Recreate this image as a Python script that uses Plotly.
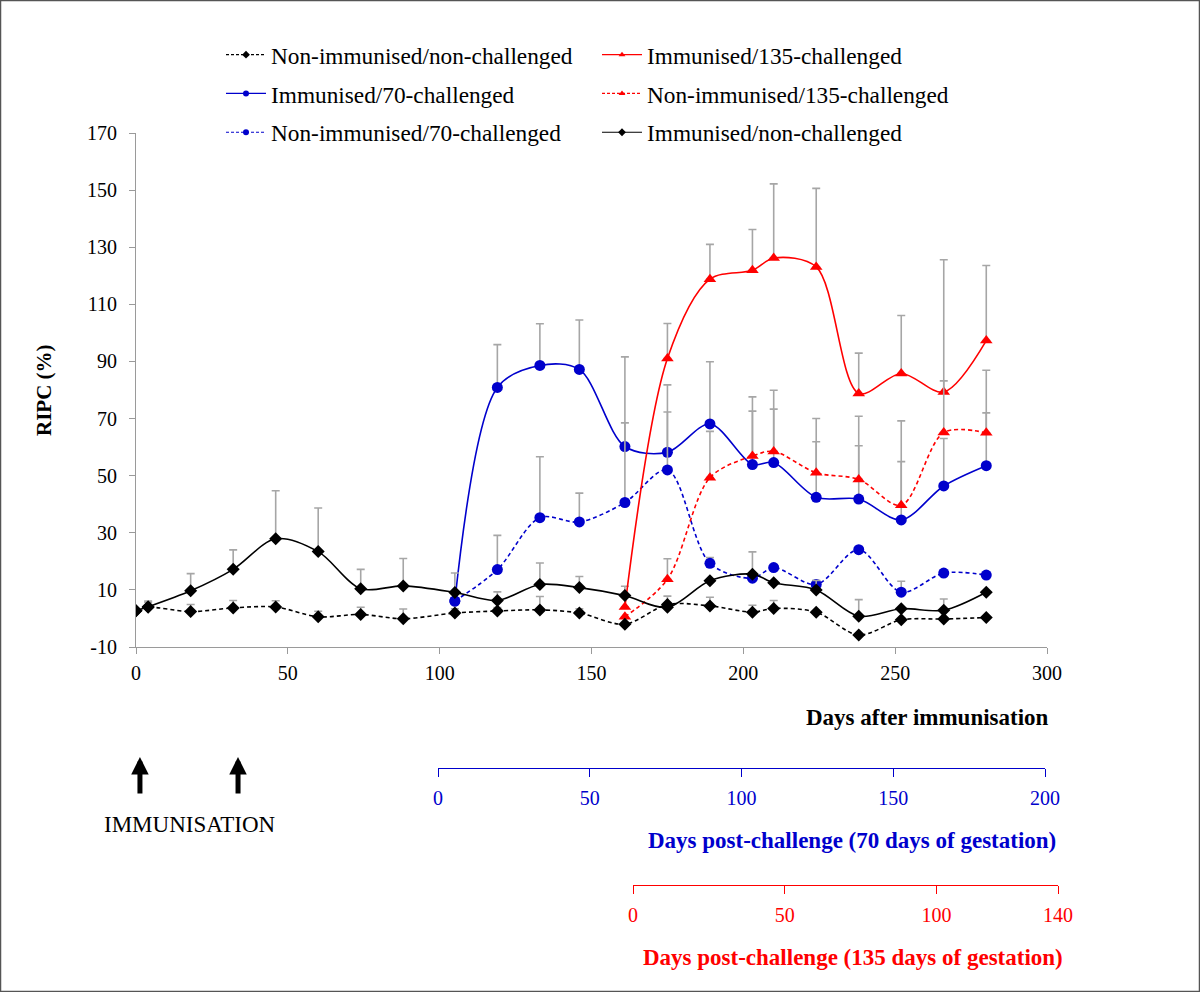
import plotly.graph_objects as go

# ---------------- data ----------------
days = [0, 4, 18, 32, 46, 60, 74, 88, 105, 119, 133, 146, 161, 175, 189, 203, 210, 224, 238, 252, 266, 280]
imm_nonch = [2.7, 4.1, 9.7, 17.2, 27.9, 23.4, 10.4, 11.4, 9.1, 6.3, 11.9, 10.8, 8.0, 3.9, 13.2, 15.5, 12.5, 10.0, 0.8, 3.4, 2.9, 9.2]
imm_nonch_err = [0, 2.0, 6.0, 6.8, 16.8, 15.3, 6.8, 9.6, 6.8, 3.0, 7.5, 3.9, 0, 0, 0, 7.8, 0, 3.3, 5.8, 0, 3.9, 0]
nonimm_nonch = [2.7, 3.9, 2.4, 3.7, 4.0, 0.6, 1.4, -0.1, 1.9, 2.6, 3.0, 1.9, -2.0, 4.9, 4.4, 2.2, 3.5, 2.2, -5.8, -0.5, -0.2, 0.3]
nonimm_nonch_err = [0, 1.8, 2.5, 2.6, 2.2, 1.9, 2.5, 3.4, 1.5, 1.2, 4.7, 1.5, 0, 2.9, 3.0, 2.4, 2.8, 0, 0, 0, 0, 0]

days_70 = [105, 119, 133, 146, 161, 175, 189, 203, 210, 224, 238, 252, 266, 280]
imm_70 = [6.1, 80.9, 88.6, 87.2, 60.2, 58.2, 68.1, 53.9, 54.6, 42.4, 41.8, 34.5, 46.4, 53.5]
imm_70_err = [1.0, 15.0, 14.6, 17.3, 31.4, 23.6, 21.8, 18.7, 18.7, 19.5, 18.7, 20.4, 16.6, 18.5]
nonimm_70 = [6.1, 17.1, 35.3, 33.8, 40.6, 52.0, 19.3, 14.1, 17.8, 11.9, 24.1, 9.2, 15.9, 15.2]
nonimm_70_err = [0, 12.0, 21.3, 10.1, 27.9, 20.3, 2.0, 1.0, 0, 1.4, 0, 3.8, 0, 0]

days_135 = [161, 175, 189, 203, 210, 224, 238, 252, 266, 280]
imm_135 = [4.0, 91.0, 118.8, 121.9, 126.2, 123.1, 78.8, 85.8, 79.3, 97.3]
imm_135_err = [7.3, 12.3, 12.2, 14.3, 26.0, 27.5, 14.1, 20.3, 46.3, 26.3]
nonimm_135 = [0.6, 13.7, 49.3, 56.9, 58.5, 51.0, 48.7, 39.6, 65.1, 65.0]
nonimm_135_err = [0, 7.2, 16.2, 20.7, 21.4, 19.0, 22.1, 29.6, 18.1, 21.9]

immunisation_days = [1.3, 33.6]
y_ticks = [-10, 10, 30, 50, 70, 90, 110, 130, 150, 170]
y_ticktext = ["-10", "10", "30", "50", "70", "90", "110", "130", "150", "170"]
x_ticks = [0, 50, 100, 150, 200, 250, 300]
pc70_ticks = [0, 50, 100, 150, 200]
pc135_ticks = [0, 50, 100, 140]

# ---------------- styling ----------------
FONT = "Liberation Serif"
BLUE = "#0000CC"
RED = "#FF0000"
BLACK = "#000000"
GREY = "#A6A6A6"
AXIS = "#9A9A9A"

series = [
    # name, x, y, err, colour, dash, symbol, size, legend
    ("Immunised/70-challenged", days_70, imm_70, imm_70_err, BLUE, "solid", "circle", 11, "legend"),
    ("Non-immunised/70-challenged", days_70, nonimm_70, nonimm_70_err, BLUE, "4px,3px", "circle", 11, "legend"),
    ("Immunised/135-challenged", days_135, imm_135, imm_135_err, RED, "solid", "triangle-up", 11, "legend2"),
    ("Non-immunised/135-challenged", days_135, nonimm_135, nonimm_135_err, RED, "4px,3px", "triangle-up", 11, "legend2"),
    ("Non-immunised/non-challenged", days, nonimm_nonch, nonimm_nonch_err, BLACK, "4px,3px", "diamond", 10, "legend"),
    ("Immunised/non-challenged", days, imm_nonch, imm_nonch_err, BLACK, "solid", "diamond", 10, "legend2"),
]

legend_order = [
    "Non-immunised/non-challenged", "Immunised/70-challenged", "Non-immunised/70-challenged",
    "Immunised/135-challenged", "Non-immunised/135-challenged", "Immunised/non-challenged",
]

fig = go.Figure()

# empty traces so the two extra time axes exist (added first -> drawn underneath)
fig.add_trace(go.Scatter(x=[None], y=[None], xaxis="x2", yaxis="y", showlegend=False, hoverinfo="skip"))
fig.add_trace(go.Scatter(x=[None], y=[None], xaxis="x3", yaxis="y", showlegend=False, hoverinfo="skip"))

for name, xs, ys, err, col, dash, sym, size, lg in series:
    fig.add_trace(go.Scatter(
        x=xs, y=ys, mode="lines+markers", name=name, legendgroup=name, showlegend=False,
        line=dict(color=col, width=1.6, dash=dash, shape="spline", smoothing=0.9),
        marker=dict(color=col, symbol=sym, size=size),
        error_y=dict(type="data", symmetric=False, array=err, arrayminus=[0] * len(err),
                     color=GREY, thickness=1.6, width=4),
        hoverinfo="x+y+name",
    ))

# legend-only entries (small markers like the original legend)
style = {s[0]: s for s in series}
for name in legend_order:
    _, _, _, _, col, dash, sym, _, lg = style[name]
    fig.add_trace(go.Scatter(
        x=[None], y=[None], mode="lines+markers", name=name, legendgroup=name,
        legend=lg, showlegend=True,
        line=dict(color=col, width=1.2, dash="3px,2px" if dash != "solid" else "solid"),
        marker=dict(color=col, symbol=sym, size=6),
    ))

L, R, T, B = 136, 142, 133, 107
W, H = 1200, 992
PW, PH = W - L - R, H - T - B


def px(xp):
    return (xp - L) / PW


def py(yp):
    return (H - B - yp) / PH


tickfont = dict(family=FONT, size=20, color=BLACK)

fig.update_layout(
    width=W, height=H,
    margin=dict(l=L, r=R, t=T, b=B),
    paper_bgcolor="white", plot_bgcolor="rgba(0,0,0,0)",
    font=dict(family=FONT, color=BLACK),
    xaxis=dict(
        domain=[0, px(1047)], range=[0, 300], tickvals=x_ticks,
        showline=True, linecolor=AXIS, linewidth=1.2, ticks="outside", ticklen=6, tickcolor=AXIS,
        showgrid=False, zeroline=False, tickfont=tickfont, ticklabelstandoff=2,
        anchor="y",
    ),
    yaxis=dict(
        domain=[py(647), 1], range=[-10, 170], tickvals=y_ticks, ticktext=y_ticktext,
        showline=True, linecolor=AXIS, linewidth=1.2, ticks="outside", ticklen=6, tickcolor=AXIS,
        showgrid=False, zeroline=False, tickfont=tickfont, ticklabelstandoff=8,
        anchor="x",
    ),
    xaxis2=dict(
        domain=[px(438), px(1045)], range=[0, 200], tickvals=pc70_ticks,
        anchor="free", position=py(768),
        showline=True, linecolor=BLUE, linewidth=1.4, ticks="outside", ticklen=8, tickcolor=BLUE,
        showgrid=False, zeroline=False, tickfont=dict(family=FONT, size=20, color=BLUE),
        ticklabelstandoff=4,
    ),
    xaxis3=dict(
        domain=[px(633), px(1058)], range=[0, 140], tickvals=pc135_ticks,
        anchor="free", position=0,
        showline=True, linecolor=RED, linewidth=1.4, ticks="outside", ticklen=8, tickcolor=RED,
        showgrid=False, zeroline=False, tickfont=dict(family=FONT, size=20, color=RED),
        ticklabelstandoff=4,
    ),
    legend=dict(
        x=px(221), y=py(33), xanchor="left", yanchor="top", orientation="v",
        font=dict(family=FONT, size=23.3, color=BLACK), bgcolor="rgba(0,0,0,0)",
        itemwidth=40, traceorder="grouped", tracegroupgap=5.5,
    ),
    legend2=dict(
        x=px(597), y=py(33), xanchor="left", yanchor="top", orientation="v",
        font=dict(family=FONT, size=23.3, color=BLACK), bgcolor="rgba(0,0,0,0)",
        itemwidth=40, traceorder="grouped", tracegroupgap=5.5,
    ),
    showlegend=True,
)

ann = [
    dict(text="<b>RIPC (%)</b>", x=px(44), y=py(390), textangle=-90,
         font=dict(family=FONT, size=21, color=BLACK)),
    dict(text="<b>Days after immunisation</b>", x=px(1051), y=py(717), xanchor="right",
         font=dict(family=FONT, size=23, color=BLACK)),
    dict(text="<b>Days post-challenge (70 days of gestation)</b>", x=px(852), y=py(840),
         font=dict(family=FONT, size=23, color=BLUE)),
    dict(text="<b>Days post-challenge (135 days of gestation)</b>", x=px(853), y=py(957),
         font=dict(family=FONT, size=23, color=RED)),
    dict(text="IMMUNISATION", x=px(190), y=py(824),
         font=dict(family=FONT, size=23, color=BLACK)),
]
for a in ann:
    a.setdefault("xanchor", "center")
    a.update(xref="paper", yref="paper", yanchor="middle", showarrow=False)
for d in immunisation_days:
    ann.append(dict(text="", x=d, y=py(757), xref="x", yref="paper", showarrow=True,
                    ax=0, ay=38, arrowhead=2, arrowsize=0.7, arrowwidth=5, arrowcolor=BLACK))
fig.update_layout(annotations=ann)

# outer frame of the picture
fig.add_shape(type="rect", xref="paper", yref="paper",
              x0=px(0.5), x1=px(1199.5), y0=py(991.5), y1=py(0.5),
              line=dict(color="#555555", width=1.5), fillcolor="rgba(0,0,0,0)", layer="below")

fig.write_html("out.html", config={"displayModeBar": False},
               post_script="document.body.style.margin='0px';")
